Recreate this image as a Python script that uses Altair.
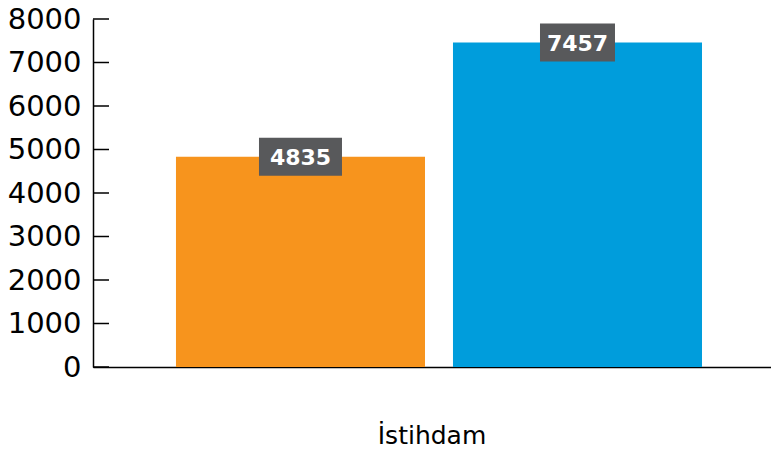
import altair as alt
import pandas as pd

categories = ["İstihdam"]
series = ["Seri 1", "Seri 2"]
values = [4835, 7457]
colors = ["#F7941D", "#009DDC"]
y_ticks = [0, 1000, 2000, 3000, 4000, 5000, 6000, 7000, 8000]

df = pd.DataFrame({
    "kategori": [categories[0]] * len(series),
    "seri": series,
    "deger": values,
    "etiket": [str(v) for v in values],
})
ticks_df = pd.DataFrame({"t": y_ticks})

FONT = "DejaVu Sans"
box_widths = [83, 75]

x_enc = alt.X(
    "kategori:N",
    scale=alt.Scale(paddingInner=0, paddingOuter=0),
    axis=alt.Axis(
        title=None, labelAngle=0, ticks=False, labelPadding=76,
        labelBaseline="alphabetic", labelFontSize=25, labelFont=FONT,
        labelColor="black", domainColor="black", domainWidth=1.5,
    ),
)
xo_enc = alt.XOffset(
    "seri:N",
    scale=alt.Scale(domain=series, paddingInner=0.101, paddingOuter=0.2743, align=0.546),
)
y_scale = alt.Scale(domain=[0, 8000], nice=False)
y_enc = alt.Y(
    "deger:Q",
    scale=y_scale,
    axis=alt.Axis(
        title=None, values=y_ticks, format="d", ticks=False, grid=False, labelPadding=12,
        labelFontSize=29, labelFont=FONT, labelColor="black",
        domainColor="black", domainWidth=1.5,
    ),
)

bars = alt.Chart(df).mark_bar().encode(
    x=x_enc,
    xOffset=xo_enc,
    y=y_enc,
    color=alt.Color("seri:N", scale=alt.Scale(domain=series, range=colors), legend=None),
)

tick_rules = alt.Chart(ticks_df).mark_rule(color="black", strokeWidth=1.5).encode(
    y=alt.Y("t:Q", scale=y_scale),
    x=alt.value(0),
    x2=alt.value(16),
)

boxes = []
for s, w in zip(series, box_widths):
    boxes.append(
        alt.Chart(df).transform_filter(alt.datum.seri == s)
        .mark_bar(width=w, color="#58595B", yOffset=-19, y2Offset=19)
        .encode(x=x_enc, xOffset=xo_enc, y=alt.Y("deger:Q", scale=y_scale), y2="deger:Q")
    )

texts = alt.Chart(df).mark_text(
    font=FONT, fontSize=22, fontWeight="bold", color="white", baseline="middle", dy=1
).encode(x=x_enc, xOffset=xo_enc, y=alt.Y("deger:Q", scale=y_scale), text="etiket:N")

chart = alt.layer(bars, tick_rules, *boxes, texts).properties(
    width=678,
    height=348,
    autosize=alt.AutoSizeParams(type="none"),
    padding={"left": 85, "top": 11, "right": 0, "bottom": 82},
).configure_view(stroke=None)

chart.save("out.html", embed_options={"renderer": "svg", "actions": False})
